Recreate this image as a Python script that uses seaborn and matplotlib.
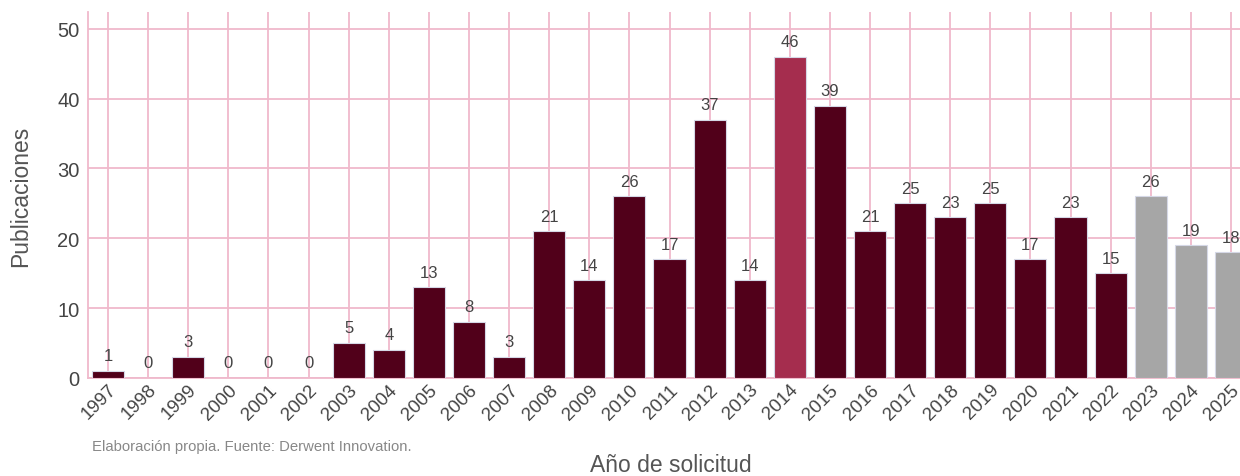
import matplotlib
matplotlib.use("Agg")
import matplotlib.pyplot as plt
import seaborn as sns
import pandas as pd

years = [str(y) for y in range(1997, 2026)]
values = [1, 0, 3, 0, 0, 0, 5, 4, 13, 8, 3, 21, 14, 26, 17, 37, 14, 46, 39,
          21, 25, 23, 25, 17, 23, 15, 26, 19, 18]
groups = ["normal"] * 17 + ["pico"] + ["normal"] * 8 + ["parcial"] * 3
palette = {"normal": "#51001a", "pico": "#a52d4e", "parcial": "#a6a6a6"}

df = pd.DataFrame({"Año": years, "Publicaciones": values, "grupo": groups})

sns.set_theme(style="white")
plt.rcParams["font.family"] = ["Liberation Sans", "DejaVu Sans"]

fig = plt.figure(figsize=(12.4, 4.77), dpi=100)
ax = fig.add_axes([88 / 1240, 1 - 379 / 477, 1163 / 1240, 366 / 477])

sns.barplot(data=df, x="Año", y="Publicaciones", hue="grupo", palette=palette,
            dodge=False, width=0.8, edgecolor="#d5d8e6", linewidth=0.8,
            saturation=1, legend=False, ax=ax, zorder=3)

ax.set_xlim(-0.5, len(years) - 0.5)
ax.set_ylim(0, 52.4)
ax.set_yticks([0, 10, 20, 30, 40, 50])
ax.grid(True, color="#f0b9cb", linewidth=1.3, zorder=0)
ax.set_axisbelow(True)
for s in ["top", "right"]:
    ax.spines[s].set_visible(False)
for s in ["left", "bottom"]:
    ax.spines[s].set_color("#f0b9cb")
    ax.spines[s].set_linewidth(1.3)

ax.tick_params(axis="y", labelsize=14.5, labelcolor="#444444", length=0, pad=6)
ax.tick_params(axis="x", labelsize=13.5, labelcolor="#444444", length=0, pad=2)
for lbl in ax.get_xticklabels():
    lbl.set_rotation(45)
    lbl.set_ha("right")
    lbl.set_rotation_mode("anchor")

for i, v in enumerate(values):
    ax.annotate(str(v), (i, v), xytext=(0, 5.5), textcoords="offset points",
                ha="center", va="bottom", fontsize=12, color="#444444",
                zorder=5)

ax.set_xlabel("")
ax.set_ylabel("Publicaciones", fontsize=16.5, color="#555555", va="center")
ax.yaxis.set_label_coords((21 - 88) / 1163, 0.5)

fig.text(671 / 1240, 1 - 466 / 477, "Año de solicitud", ha="center",
         va="center", fontsize=16.5, color="#555555")
fig.text(92 / 1240, 1 - 447 / 477, "Elaboración propia. Fuente: Derwent Innovation.",
         ha="left", va="center", fontsize=10.7, color="#888888")

fig.savefig("out.png", dpi=100)
